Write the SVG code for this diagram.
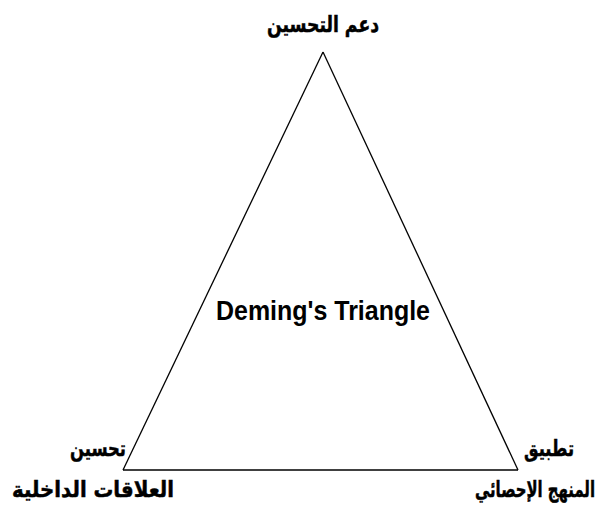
<svg xmlns="http://www.w3.org/2000/svg" width="603" height="526" viewBox="0 0 603 526">
<style>
.ar{font-family:"DejaVu Sans","Noto Sans",sans-serif;font-weight:bold;font-size:22px;fill:#000;stroke:#000;stroke-width:0.5}
.en{font-family:"Liberation Sans",Arial,sans-serif;font-weight:bold;font-size:27px;fill:#000}
.edge{stroke:#000;stroke-width:1.3;fill:none}
</style>
<rect width="603" height="526" fill="#fff"/>
<g id="connectors">
<path class="edge" d="M323,52 L123,470"/>
<path class="edge" d="M323,52 L518,470"/>
<path class="edge" d="M123,470 L518,470"/>
</g>
<g id="top">
<text class="ar" x="323" y="32" text-anchor="middle" direction="rtl" textLength="112" lengthAdjust="spacingAndGlyphs">دعم التحسين</text>
</g>
<g id="left">
<text class="ar" x="98" y="456" text-anchor="middle" direction="rtl" textLength="56" lengthAdjust="spacingAndGlyphs">تحسين</text>
<text class="ar" x="93" y="497" text-anchor="middle" direction="rtl" textLength="162" lengthAdjust="spacingAndGlyphs">العلاقات الداخلية</text>
</g>
<g id="right">
<text class="ar" x="549" y="456" text-anchor="middle" direction="rtl" textLength="50" lengthAdjust="spacingAndGlyphs">تطبيق</text>
<text class="ar" transform="translate(535,497) scale(1,1.25)" style="font-size:17.6px;stroke-width:0.4" x="0" y="0" text-anchor="middle" direction="rtl" textLength="120" lengthAdjust="spacingAndGlyphs">المنهج الإحصائي</text>
</g>
<g id="center">
<text class="en" x="323" y="320" text-anchor="middle" textLength="214" lengthAdjust="spacingAndGlyphs">Deming's Triangle</text>
</g>
</svg>
